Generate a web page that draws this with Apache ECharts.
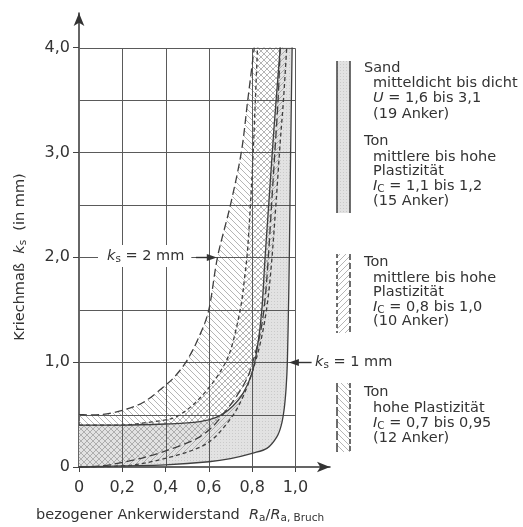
<!DOCTYPE html>
<html>
<head>
<meta charset="utf-8">
<script src="https://cdn.jsdelivr.net/npm/echarts@6/dist/echarts.min.js"></script>
<style>
html, body { margin: 0; padding: 0; background: #fff; }
#main { width: 523px; height: 527px; }
</style>
</head>
<body>
<div id="main"></div>
<script>
// Achsen
var xTicks = [0, 0.2, 0.4, 0.6, 0.8, 1.0];
var xTickLabels = ['0', '0,2', '0,4', '0,6', '0,8', '1,0'];
var yTicks = [0, 1, 2, 3, 4];
var yTickLabels = ['0', '1,0', '2,0', '3,0', '4,0'];
var xGridValues = [0.2, 0.4, 0.6, 0.8, 1.0];
var yGridValues = [0.5, 1, 1.5, 2, 2.5, 3, 3.5, 4];

// Sand / Ton Ic 1,1-1,2 (grau, durchgezogen)
var sandUpper = [[0, 0.4], [0.2, 0.4], [0.4, 0.41], [0.5, 0.42], [0.6, 0.45], [0.66, 0.5], [0.71, 0.58],
	[0.76, 0.71], [0.8, 0.9], [0.825, 1.15], [0.845, 1.5], [0.86, 2.0], [0.88, 2.6], [0.9, 3.2], [0.93, 4.0]];
var sandLower = [[0, 0], [0.2, 0.01], [0.4, 0.02], [0.6, 0.05], [0.7, 0.08], [0.8, 0.13], [0.87, 0.18],
	[0.915, 0.29], [0.935, 0.4], [0.948, 0.55], [0.957, 0.75], [0.963, 1.0], [0.968, 1.5], [0.972, 2.0],
	[0.978, 3.0], [0.985, 4.0]];

// Ton Ic 0,8-1,0 (schraffiert /)
var clayMidUpper = [[0, 0.4], [0.2, 0.4], [0.3, 0.42], [0.4, 0.45], [0.45, 0.48], [0.52, 0.58], [0.59, 0.73],
	[0.65, 0.9], [0.7, 1.11], [0.745, 1.5], [0.765, 1.8], [0.78, 2.1], [0.795, 2.6], [0.805, 3.0],
	[0.815, 3.5], [0.825, 4.0]];
var clayMidLower = [[0, 0], [0.2, 0.01], [0.31, 0.04], [0.45, 0.11], [0.56, 0.19], [0.62, 0.27], [0.67, 0.38],
	[0.72, 0.52], [0.76, 0.68], [0.8, 0.9], [0.84, 1.2], [0.87, 1.55], [0.89, 1.95], [0.91, 2.5],
	[0.93, 3.1], [0.945, 3.5], [0.96, 4.0]];

// Ton Ic 0,7-0,95 (schraffiert \)
var clayHighUpper = [[0, 0.5], [0.1, 0.5], [0.2, 0.54], [0.3, 0.62], [0.4, 0.78], [0.45, 0.88], [0.5, 1.02],
	[0.55, 1.22], [0.6, 1.5], [0.64, 2.0], [0.7, 2.5], [0.75, 3.0], [0.78, 3.5], [0.81, 4.0]];
var clayHighLower = [[0, 0], [0.1, 0.01], [0.19, 0.04], [0.3, 0.09], [0.41, 0.16], [0.5, 0.23], [0.56, 0.29],
	[0.62, 0.39], [0.68, 0.54], [0.73, 0.68], [0.78, 0.86], [0.81, 1.05], [0.84, 1.3], [0.86, 1.6],
	[0.875, 2.0], [0.89, 2.5], [0.905, 3.0], [0.92, 3.5], [0.93, 4.0]];

// Pfeile ks (von, nach)
var ksArrows = [[0.54, 2.0, 0.637, 2.0], [1.075, 1.0, 0.97, 1.0]];

var FONT = 'DejaVu Sans';
var TXT = '#333';
var LINE = '#3f3f3f';

function makePattern(kind) {
	var c = document.createElement('canvas');
	var ctx = c.getContext('2d');
	if(kind == 'dots') {
		c.width = 3; c.height = 3;
		ctx.fillStyle = '#e2e2e2';
		ctx.fillRect(0, 0, 3, 3);
		ctx.fillStyle = '#cacaca';
		ctx.fillRect(1, 1, 1, 1);
		return { image: c, repeat: 'repeat' };
	}
	var s = 6;
	c.width = s; c.height = s;
	ctx.strokeStyle = '#a2a2a2';
	ctx.lineWidth = 0.8;
	ctx.beginPath();
	if(kind == 'fwd') {
		ctx.moveTo(0, s); ctx.lineTo(s, 0);
		ctx.moveTo(-1, 1); ctx.lineTo(1, -1);
		ctx.moveTo(s - 1, s + 1); ctx.lineTo(s + 1, s - 1);
	} else {
		ctx.moveTo(0, 0); ctx.lineTo(s, s);
		ctx.moveTo(s - 1, -1); ctx.lineTo(s + 1, 1);
		ctx.moveTo(-1, s - 1); ctx.lineTo(1, s + 1);
	}
	ctx.stroke();
	return { image: c, repeat: 'repeat' };
}

var dotFill = makePattern('dots');
var fwdFill = makePattern('fwd');
var backFill = makePattern('back');

var bands = [
	{ upper: sandUpper, lower: sandLower, fill: dotFill, dash: null },
	{ upper: clayMidUpper, lower: clayMidLower, fill: fwdFill, dash: [4, 3] },
	{ upper: clayHighUpper, lower: clayHighLower, fill: backFill, dash: [8, 4] }
];

// Catmull-Rom -> Bezier
function smoothPath(pts, move) {
	var d = (move ? 'M' : 'L') + pts[0][0] + ' ' + pts[0][1];
	for(var i = 0; i < pts.length - 1; i++) {
		var p0 = pts[Math.max(i - 1, 0)], p1 = pts[i], p2 = pts[i + 1], p3 = pts[Math.min(i + 2, pts.length - 1)];
		d += ' C' + (p1[0] + (p2[0] - p0[0]) / 6) + ' ' + (p1[1] + (p2[1] - p0[1]) / 6) + ' ' +
			(p2[0] - (p3[0] - p1[0]) / 6) + ' ' + (p2[1] - (p3[1] - p1[1]) / 6) + ' ' + p2[0] + ' ' + p2[1];
	}
	return d;
}

var gridSegs = [];
xGridValues.forEach(function(v) { gridSegs.push([v, 0, v, 4]); });
yGridValues.forEach(function(v) { gridSegs.push([0, v, 1, v]); });

var rich = {
	n: { fontFamily: FONT, fontSize: 14.5, color: TXT, lineHeight: 18 },
	i: { fontFamily: FONT, fontSize: 14.5, color: TXT, fontStyle: 'italic', lineHeight: 18 },
	sub: { fontFamily: FONT, fontSize: 10.5, color: TXT, lineHeight: 18, verticalAlign: 'bottom', padding: [5, 0, 0, 0] }
};

function txt(x, y, s, extra) {
	var o = {
		type: 'text', x: x, y: y, z: 100,
		style: { text: s, rich: rich, fontFamily: FONT, fontSize: 14.5, fill: TXT, align: 'left', verticalAlign: 'middle' }
	};
	if(extra) {
		for(var k in extra) o.style[k] = extra[k];
	}
	return o;
}

var legendText = [
	[364, 68, '{n|Sand}'], [373, 83, '{n|mitteldicht bis dicht}'], [373, 98, '{i|U}{n| = 1,6 bis 3,1}'], [373, 114, '{n|(19 Anker)}'],
	[364, 141, '{n|Ton}'], [373, 157, '{n|mittlere bis hohe}'], [373, 171, '{n|Plastizität}'], [373, 186, '{i|I}{sub|C}{n| = 1,1 bis 1,2}'], [373, 201, '{n|(15 Anker)}'],
	[364, 262, '{n|Ton}'], [373, 278, '{n|mittlere bis hohe}'], [373, 292, '{n|Plastizität}'], [373, 307, '{i|I}{sub|C}{n| = 0,8 bis 1,0}'], [373, 321, '{n|(10 Anker)}'],
	[364, 392, '{n|Ton}'], [373, 408, '{n|hohe Plastizität}'], [373, 423, '{i|I}{sub|C}{n| = 0,7 bis 0,95}'], [373, 438, '{n|(12 Anker)}']
];

var graphics = [];
legendText.forEach(function(l) { graphics.push(txt(l[0], l[1], l[2])); });

// Legendenfelder
function swatch(y1, y2, fill, dashL, dashR) {
	graphics.push({ type: 'rect', z: 99, shape: { x: 337, y: y1, width: 13, height: y2 - y1 }, style: { fill: fill } });
	graphics.push({ type: 'line', z: 100, shape: { x1: 337, y1: y1, x2: 337, y2: y2 }, style: { stroke: LINE, lineWidth: 1.5, lineDash: dashL } });
	graphics.push({ type: 'line', z: 100, shape: { x1: 350, y1: y1, x2: 350, y2: y2 }, style: { stroke: LINE, lineWidth: 1.5, lineDash: dashR } });
}
swatch(61, 213, dotFill, null, null);
swatch(254, 333, fwdFill, [4, 3], [6, 3]);
swatch(383, 452, backFill, [9, 3], [5, 2]);

graphics.push(txt(98, 256, '{i|k}{sub|s}{n| = 2 mm}', { backgroundColor: '#fff', padding: [2, 7, 2, 9] }));
graphics.push(txt(315, 362, '{i|k}{sub|s}{n| = 1 mm}'));
graphics.push(txt(36, 515, '{n|bezogener Ankerwiderstand  }{i|R}{sub|a}{n|/}{i|R}{sub|a, Bruch}'));
graphics.push({
	type: 'text', x: 20, y: 257, z: 100, rotation: Math.PI / 2,
	style: { text: '{n|Kriechmaß  }{i|k}{sub|s}{n|  (in mm)}', rich: rich, fontFamily: FONT, fontSize: 14.5, fill: TXT, align: 'center', verticalAlign: 'middle' }
});

var chart = echarts.init(document.getElementById('main'));
chart.setOption({
	backgroundColor: '#fff',
	animation: false,
	grid: { left: 79, right: 193, top: 13, bottom: 60 },
	xAxis: {
		type: 'value', min: 0, max: 1.16, interval: 0.2,
		axisLine: { lineStyle: { color: '#333', width: 1.5 }, symbol: ['none', 'arrow'], symbolSize: [8, 13] },
		axisTick: { customValues: xTicks, length: 5, lineStyle: { color: '#444' } },
		axisLabel: {
			customValues: xTicks, margin: 13, color: TXT, fontFamily: FONT, fontSize: 16,
			formatter: function(v) { return xTickLabels[xTicks.indexOf(Math.round(v * 10) / 10)] || ''; }
		},
		splitLine: { show: false }
	},
	yAxis: {
		type: 'value', min: 0, max: 4.33, interval: 1,
		axisLine: { show: true, lineStyle: { color: '#333', width: 1.5 }, symbol: ['none', 'arrow'], symbolSize: [8, 13] },
		axisTick: { show: true, customValues: yTicks, length: 6, lineStyle: { color: '#444' } },
		axisLabel: {
			customValues: yTicks, margin: 9, color: TXT, fontFamily: FONT, fontSize: 16,
			formatter: function(v) { return yTickLabels[yTicks.indexOf(Math.round(v))] || ''; }
		},
		splitLine: { show: false }
	},
	graphic: graphics,
	series: [
		{
			type: 'custom', name: 'bands', z: 2, silent: true,
			data: [[0, 0], [1, 0], [2, 0]],
			renderItem: function(params, api) {
				var b = bands[params.dataIndex];
				var up = b.upper.map(function(p) { return api.coord(p); });
				var lo = b.lower.map(function(p) { return api.coord(p); });
				return {
					type: 'path',
					shape: { pathData: smoothPath(up, true) + ' ' + smoothPath(lo.slice().reverse(), false) + ' Z' },
					style: { fill: b.fill, stroke: null }
				};
			}
		},
		{
			type: 'custom', name: 'gitter', z: 3, silent: true,
			data: gridSegs,
			renderItem: function(params, api) {
				var a = api.coord([api.value(0), api.value(1)]);
				var e = api.coord([api.value(2), api.value(3)]);
				return {
					type: 'line',
					shape: { x1: Math.round(a[0]) + 0.5, y1: Math.round(a[1]) + 0.5, x2: Math.round(e[0]) + 0.5, y2: Math.round(e[1]) + 0.5 },
					style: { stroke: '#5a5a5a', lineWidth: 1 }
				};
			}
		},
		{
			type: 'custom', name: 'linien', z: 4, silent: true,
			data: [[0, 0], [1, 0], [2, 0]],
			renderItem: function(params, api) {
				var b = bands[params.dataIndex];
				var st = { stroke: LINE, lineWidth: 1.3, fill: null, lineDash: b.dash };
				return {
					type: 'group',
					children: [
						{ type: 'path', shape: { pathData: smoothPath(b.upper.map(function(p) { return api.coord(p); }), true) }, style: st },
						{ type: 'path', shape: { pathData: smoothPath(b.lower.map(function(p) { return api.coord(p); }), true) }, style: st }
					]
				};
			}
		},
		{
			type: 'custom', name: 'pfeile', z: 5, silent: true,
			data: ksArrows,
			renderItem: function(params, api) {
				var a = api.coord([api.value(0), api.value(1)]);
				var e = api.coord([api.value(2), api.value(3)]);
				var dir = e[0] > a[0] ? 1 : -1;
				var y = Math.round(e[1]) + 0.5;
				return {
					type: 'group',
					children: [
						{ type: 'line', shape: { x1: a[0], y1: y, x2: e[0] - dir * 6, y2: y }, style: { stroke: '#333', lineWidth: 1.4 } },
						{ type: 'polygon', shape: { points: [[e[0], y], [e[0] - dir * 10, y - 3.5], [e[0] - dir * 10, y + 3.5]] }, style: { fill: '#333' } }
					]
				};
			}
		}
	]
});
</script>
</body>
</html>
